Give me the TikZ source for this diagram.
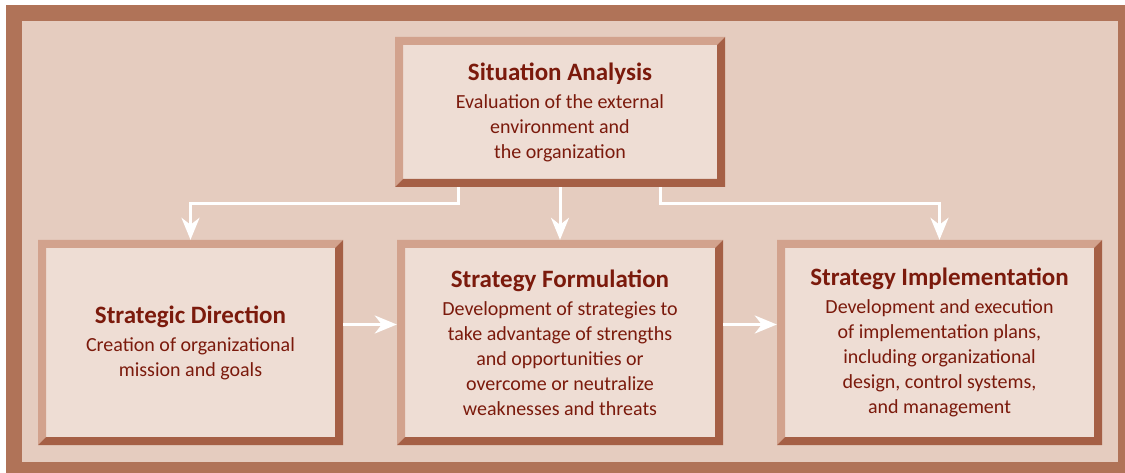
\documentclass[tikz,border=0pt]{standalone}
\usepackage{fontspec}
\setmainfont{Carlito}
\usetikzlibrary{arrows.meta}
\definecolor{framebrown}{HTML}{B07358}
\definecolor{panelbg}{HTML}{E5CCBF}
\definecolor{boxface}{HTML}{EEDDD4}
\definecolor{bevlight}{HTML}{D2A28D}
\definecolor{bevdark}{HTML}{A55F45}
\definecolor{textred}{HTML}{7B1A0C}
\newcommand{\boxhead}[1]{{\bfseries\fontsize{25}{25}\selectfont #1}\\[3pt]}
\begin{document}
\begin{tikzpicture}[x=1pt,y=-1pt,
	bevel/.style={fill=boxface,inner sep=0pt,text=textred,align=center,
		font=\fontsize{20}{25}\selectfont,
		path picture={
			\coordinate (sw) at (path picture bounding box.south west);
			\coordinate (nw) at (path picture bounding box.north west);
			\coordinate (ne) at (path picture bounding box.north east);
			\coordinate (se) at (path picture bounding box.south east);
			\fill[bevlight] (sw) -- (nw) -- (ne) -- ([shift={(-8pt,-8pt)}]ne)
				-- ([shift={(8pt,-8pt)}]nw) -- ([shift={(8pt,8pt)}]sw) -- cycle;
			\fill[bevdark] (sw) -- (se) -- (ne) -- ([shift={(-8pt,-8pt)}]ne)
				-- ([shift={(-8pt,8pt)}]se) -- ([shift={(8pt,8pt)}]sw) -- cycle;
		}},
	flow/.style={draw=white,line width=3pt,-{Stealth[length=22pt,width=18pt,inset=7pt]}}]
		\useasboundingbox (0,0) rectangle (1125,473);
		\fill[white] (0,0) rectangle (1125,473);
		\fill[framebrown] (6,5) rectangle (1125,473);
		\fill[panelbg] (22,21) rectangle (1118,462);
		
		\node[bevel,minimum width=330pt,minimum height=150pt] (sa) at (560,112)
			{\boxhead{Situation Analysis}Evaluation of the external\\environment and\\the organization};
		\node[bevel,minimum width=305pt,minimum height=205pt] (sd) at (190.5,342.5)
			{\boxhead{Strategic Direction}Creation of organizational\\mission and goals};
		\node[bevel,minimum width=326pt,minimum height=205pt] (sf) at (560,342.5)
			{\boxhead{Strategy Formulation}Development of strategies to\\take advantage of strengths\\and opportunities or\\overcome or neutralize\\weaknesses and threats};
		\node[bevel,minimum width=325pt,minimum height=205pt] (si) at (939.5,342.5)
			{\boxhead{Strategy Implementation}Development and execution\\of implementation plans,\\including organizational\\design, control systems,\\and management};
		
		\draw[flow] ([xshift=-102pt]sa.south) -- ++(0,16) -| (sd.north);
		\draw[flow] (sa.south) -- (sf.north);
		\draw[flow] ([xshift=100pt]sa.south) -- ++(0,16) -| (si.north);
		\draw[flow] ([yshift=18pt]sd.east) -- ([yshift=18pt]sf.west);
		\draw[flow] ([yshift=18pt]sf.east) -- ([yshift=18pt]si.west);
	\end{tikzpicture}
\end{document}
